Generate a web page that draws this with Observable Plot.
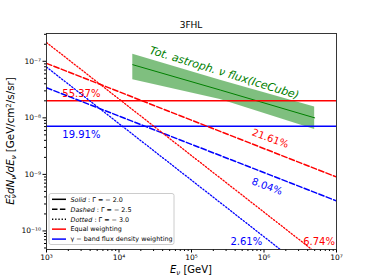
<!DOCTYPE html>
<html><head><meta charset="utf-8">
<script src="https://cdn.jsdelivr.net/npm/d3@7"></script>
<script src="https://cdn.jsdelivr.net/npm/@observablehq/plot@0.6"></script>
<style>
body{margin:0;background:#fff;}
#chart{position:relative;width:374px;height:280px;}
</style></head><body><div id="chart"></div>
<script>
// ---- data ----
const title = "3FHL";
const weightings = ["Equal weighting", "γ − band flux density weighting"];
// power-law neutrino flux lines: [E_start, E_end] and fluxes at those energies
const solidE = [1e3, 1e7];
const equalSolid = [2.0e-8, 2.0e-8];
const gammaSolid = [7.1e-9, 7.1e-9];
const dashedE = [1e3, 1e7];
const equalDashed = [9.2e-8, 9.0e-10];
const gammaDashed = [3.4e-8, 3.4e-10];
const equalDottedE = [1e3, 5e6];
const equalDotted = [2.15e-7, 4.3e-11];
const gammaDottedE = [1e3, 2e6];
const gammaDotted = [7.9e-8, 3.95e-11];
// IceCube astrophysical flux band
const iceE = [1.55e4, 2.5e5, 5e6];
const iceLow = [4.7e-8, 2.1e-8, 6.2e-9];
const iceMid = [8.7e-8, 3.1e-8, 1.0e-8];
const iceHigh = [1.33e-7, 4.6e-8, 1.55e-8];
const iceLabel = "Tot. astroph. ν flux(IceCube)";
const iceLabelE = [2.83e5];
const iceLabelFlux = [6.25e-8];
// percentage annotations
const pctText = ["55.37%", "19.91%", "21.61%", "8.04%", "2.61%", "6.74%"];
const pctWeighting = [0, 1, 0, 1, 1, 0];
const pctAlongLine = [false, false, true, true, false, false];
const pctE = [3.03e3, 3.03e3, 1.22e6, 1.1e6, 5.7e5, 5.75e6];
const pctFlux = [2.7e-8, 5.1e-9, 4.3e-9, 6.1e-10, 6.5e-11, 6.5e-11];
// ticks
const xTicks = [1e3, 1e4, 1e5, 1e6, 1e7];
const yTicks = [1e-10, 1e-9, 1e-8, 1e-7];
const legendEntries = [
  ["Solid", " : Γ = − 2.0"],
  ["Dashed", " : Γ = − 2.5"],
  ["Dotted", " : Γ = − 3.0"],
  ["", "Equal weighting"],
  ["", "γ − band flux density weighting"]
];

// ---- tidy tables ----
function seg(Es, Fs, w, g) { return Es.map((E, i) => ({E, flux: Fs[i], weighting: weightings[w], gamma: g})); }
const lines = [
  ...seg(solidE, equalSolid, 0, "solid"), ...seg(solidE, gammaSolid, 1, "solid"),
  ...seg(dashedE, equalDashed, 0, "dashed"), ...seg(dashedE, gammaDashed, 1, "dashed"),
  ...seg(equalDottedE, equalDotted, 0, "dotted"), ...seg(gammaDottedE, gammaDotted, 1, "dotted")
];
const ice = iceE.map((E, i) => ({E, lo: iceLow[i], mid: iceMid[i], hi: iceHigh[i]}));
const pcts = pctText.map((t, i) => ({t, E: pctE[i], flux: pctFlux[i], weighting: weightings[pctWeighting[i]], along: pctAlongLine[i]}));

const supMap = {"-": "⁻", "0": "⁰", "1": "¹", "2": "²", "3": "³", "4": "⁴", "5": "⁵", "6": "⁶", "7": "⁷", "8": "⁸", "9": "⁹"};
const fmt = d => "10" + String(Math.round(Math.log10(d))).split("").map(c => supMap[c]).join("");
const minor = (lo, hi) => { const o = []; for (let e = lo; e < hi; e++) for (let k = 2; k <= 9; k++) o.push(k * Math.pow(10, e)); return o; };

const dash = {solid: null, dashed: "5.5,2.4", dotted: "1.3,1.9"};
const width = {solid: 1.5, dashed: 1.5, dotted: 1.3};

const chart = Plot.plot({
  width: 374, height: 280,
  marginLeft: 46, marginRight: 38, marginTop: 33, marginBottom: 31,
  style: {fontFamily: "DejaVu Sans", color: "black", background: "white", overflow: "visible"},
  x: {type: "log", domain: [1e3, 1e7]},
  y: {type: "log", domain: [4.7e-11, 3.1e-7]},
  color: {domain: weightings, range: ["#ff0000", "#0000ff"]},
  marks: [
    Plot.areaY(ice, {x: "E", y1: "lo", y2: "hi", fill: "green", fillOpacity: 0.5}),
    Plot.line(ice, {x: "E", y: "mid", stroke: "green", strokeWidth: 1}),
    ...["solid", "dashed", "dotted"].map(g => Plot.line(lines.filter(d => d.gamma === g), {
      x: "E", y: "flux", z: "weighting", stroke: "weighting", strokeWidth: width[g],
      strokeDasharray: dash[g], clip: true
    })),
    Plot.text(pcts.filter(d => !d.along), {x: "E", y: "flux", text: "t", fill: "weighting", fontSize: 10}),
    Plot.text(pcts.filter(d => d.along), {x: "E", y: "flux", text: "t", fill: "weighting", fontSize: 10, rotate: 20}),
    Plot.text([iceLabel], {x: iceLabelE, y: iceLabelFlux, text: d => d, fill: "green", fontSize: 11, fontStyle: "italic", rotate: 17}),
    Plot.axisX(xTicks, {tickSize: 3.5, tickPadding: 2, tickFormat: fmt, fontSize: 7.5, label: null}),
    Plot.axisX(minor(3, 7), {tickSize: 2, tickFormat: () => "", label: null}),
    Plot.axisY(yTicks, {tickSize: 3.5, tickPadding: 2, tickFormat: fmt, fontSize: 7.5, label: null}),
    Plot.axisY(minor(-11, -6).filter(v => v >= 4.7e-11 && v <= 3.1e-7), {tickSize: 2, tickFormat: () => "", label: null}),
    Plot.frame({stroke: "#222", strokeWidth: 0.9})
  ]
});
document.getElementById("chart").appendChild(chart);

// ---- title, axis labels, legend ----
const svg = d3.select(chart);
svg.append("text").attr("x", 191).attr("y", 27.5).attr("text-anchor", "middle")
  .attr("font-size", 9).attr("fill", "black").text(title);

const xl = svg.append("text").attr("x", 191).attr("y", 273).attr("text-anchor", "middle")
  .attr("font-size", 10).attr("fill", "black");
xl.append("tspan").attr("font-style", "italic").text("E");
xl.append("tspan").attr("font-size", 7).attr("dy", 2.2).attr("font-style", "italic").text("ν");
xl.append("tspan").attr("dy", -2.2).text(" [GeV]");

const yl = svg.append("text").attr("transform", "translate(14,141) rotate(-90)").attr("text-anchor", "middle")
  .attr("font-size", 10.3).attr("fill", "black");
yl.append("tspan").attr("font-style", "italic").text("E");
yl.append("tspan").attr("font-size", 7).attr("dy", 2.4).attr("font-style", "italic").text("ν");
yl.append("tspan").attr("font-size", 7).attr("dx", -4.2).attr("dy", -6.5).text("2");
yl.append("tspan").attr("dy", 4.1).attr("font-style", "italic").text("dN");
yl.append("tspan").attr("font-size", 7).attr("dy", 2.4).attr("font-style", "italic").text("ν");
yl.append("tspan").attr("dy", -2.4).attr("font-style", "italic").text("/dE");
yl.append("tspan").attr("font-size", 7).attr("dy", 2.4).attr("font-style", "italic").text("ν");
yl.append("tspan").attr("dy", -2.4).text(" [GeV/cm");
yl.append("tspan").attr("font-size", 7).attr("dy", -3.5).text("2");
yl.append("tspan").attr("dy", 3.5).text("/s/sr]");

const lg = svg.append("g").attr("text-anchor", "start");
lg.append("rect").attr("x", 49).attr("y", 193.5).attr("width", 125).attr("height", 51).attr("rx", 2)
  .attr("fill", "white").attr("fill-opacity", 0.85).attr("stroke", "#cccccc").attr("stroke-width", 1);
const legStroke = ["black", "black", "black", "#ff0000", "#0000ff"];
const legDash = [null, "5.5,2.4", "1.3,1.9", null, null];
legendEntries.forEach((e, i) => {
  const y = 199.3 + i * 9.95;
  lg.append("line").attr("x1", 52).attr("x2", 66).attr("y1", y).attr("y2", y)
    .attr("stroke", legStroke[i]).attr("stroke-width", 1.5).attr("stroke-dasharray", legDash[i]);
  const t = lg.append("text").attr("x", 70.5).attr("y", y + 2.3).attr("font-size", 6.4)
    .attr("fill", "black").attr("text-anchor", "start");
  if (e[0]) t.append("tspan").attr("font-style", "italic").text(e[0]);
  t.append("tspan").text(e[1]);
});
</script></body></html>
